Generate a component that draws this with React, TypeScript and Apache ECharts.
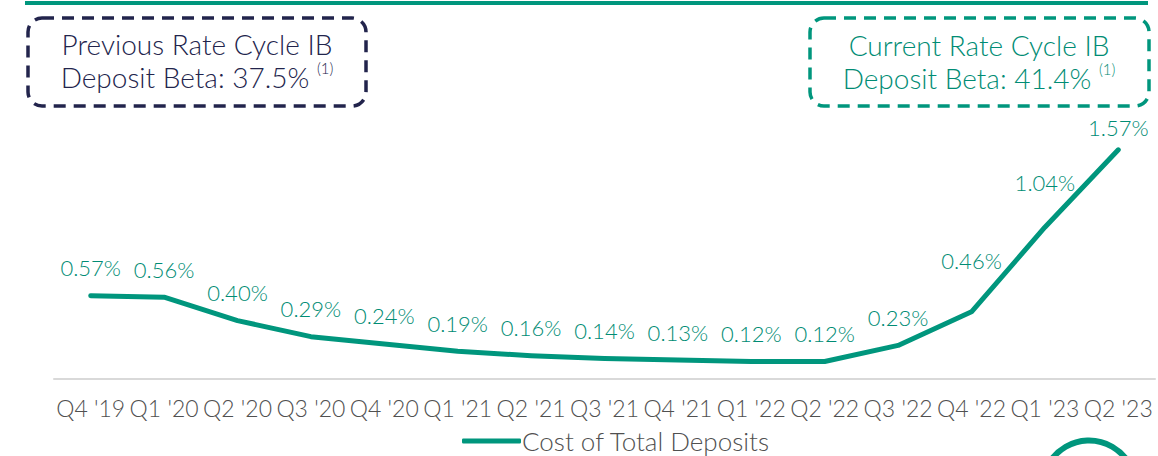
import React, { useEffect, useRef } from "react";
import * as echarts from "echarts";

const categories = [
  "Q4 '19", "Q1 '20", "Q2 '20", "Q3 '20", "Q4 '20", "Q1 '21", "Q2 '21", "Q3 '21",
  "Q4 '21", "Q1 '22", "Q2 '22", "Q3 '22", "Q4 '22", "Q1 '23", "Q2 '23",
];
const costOfTotalDeposits = [0.57, 0.56, 0.4, 0.29, 0.24, 0.19, 0.16, 0.14, 0.13, 0.12, 0.12, 0.23, 0.46, 1.04, 1.57];
const seriesName = "Cost of Total Deposits";
const previousBeta = "37.5%";
const currentBeta = "41.4%";

const TEAL = "#00967d";
const TEAL_TEXT = "#008c74";
const NAVY = "#22244c";
const GRAY = "#505050";
const FONT = "Lato, 'Open Sans', sans-serif";

export default function App() {
  const ref = useRef<HTMLDivElement>(null);
  useEffect(() => {
    if (!ref.current) return;
    const chart = echarts.init(ref.current, undefined, { renderer: "svg" });
    const labelDist = (i: number) => (i === 12 ? 39 : i === 13 ? 33 : i === 14 ? 10 : 16);
    chart.setOption({
      animation: false,
      textStyle: { fontFamily: FONT },
      grid: { left: 54, right: 3, top: 87, bottom: 77 },
      xAxis: {
        type: "category",
        data: categories,
        boundaryGap: true,
        axisLine: { show: true, lineStyle: { color: "#d9d9d9", width: 2 } },
        axisTick: { show: false },
        axisLabel: { color: GRAY, fontSize: 23, fontWeight: 300, fontFamily: FONT, margin: 17, interval: 0 },
      },
      yAxis: { type: "value", min: 0, max: 2, show: false, splitLine: { show: false } },
      legend: {
        data: [{ name: seriesName, icon: "roundRect", itemStyle: { color: TEAL, opacity: 1 } }],
        left: 462,
        top: 428,
        padding: 0,
        itemWidth: 59,
        itemHeight: 5,
        itemGap: 0,
        textStyle: { color: GRAY, fontSize: 26, fontWeight: 300, fontFamily: FONT, lineHeight: 26, padding: [0, 0, 0, -4] },
      },
      series: [
        {
          name: seriesName,
          type: "line",
          data: costOfTotalDeposits.map((v, i) => ({
            value: v,
            label: { distance: labelDist(i) },
          })),
          showSymbol: true,
          symbol: "circle",
          symbolSize: 2,
          lineStyle: { color: TEAL, width: 5, cap: "round", join: "round" },
          itemStyle: { color: TEAL },
          label: {
            show: true,
            position: "top",
            color: TEAL_TEXT,
            fontSize: 22,
            fontWeight: 300,
            fontFamily: FONT,
            formatter: (p: any) => p.value.toFixed(2) + "%",
          },
        },
      ],
      graphic: [
        { type: "line", shape: { x1: 25, y1: 3, x2: 1148, y2: 3 }, style: { stroke: TEAL, lineWidth: 4 } },
        {
          type: "rect",
          shape: { x: 28, y: 18, width: 338, height: 88, r: 14 },
          style: { fill: "none", stroke: NAVY, lineWidth: 3.5, lineDash: [12, 8] },
        },
        {
          type: "text",
          x: 197,
          y: 60,
          style: {
            text: "Previous Rate Cycle IB\nDeposit Beta: " + previousBeta + " {sup|(1)}",
            fill: NAVY,
            font: "300 28px " + FONT,
            align: "center",
            verticalAlign: "middle",
            lineHeight: 33,
            rich: { sup: { fontSize: 15, fontWeight: 300, fontFamily: FONT, fill: NAVY, verticalAlign: "top", padding: [0, 0, 13, 0] } },
          },
        },
        {
          type: "rect",
          shape: { x: 810, y: 18, width: 339, height: 88, r: 14 },
          style: { fill: "none", stroke: TEAL, lineWidth: 3.5, lineDash: [12, 8] },
        },
        {
          type: "text",
          x: 979,
          y: 61,
          style: {
            text: "Current Rate Cycle IB\nDeposit Beta: " + currentBeta + " {sup|(1)}",
            fill: TEAL_TEXT,
            font: "300 28px " + FONT,
            align: "center",
            verticalAlign: "middle",
            lineHeight: 33,
            rich: { sup: { fontSize: 15, fontWeight: 300, fontFamily: FONT, fill: TEAL_TEXT, verticalAlign: "top", padding: [0, 0, 13, 0] } },
          },
        },
        {
          type: "circle",
          shape: { cx: 1089, cy: 487, r: 46.5 },
          style: { fill: "none", stroke: TEAL, lineWidth: 6 },
        },
      ],
    });
    return () => chart.dispose();
  }, []);
  return (
    <div
      ref={ref}
      style={{ position: "fixed", left: 0, top: 0, width: 1158, height: 456, background: "#fff" }}
    />
  );
}
